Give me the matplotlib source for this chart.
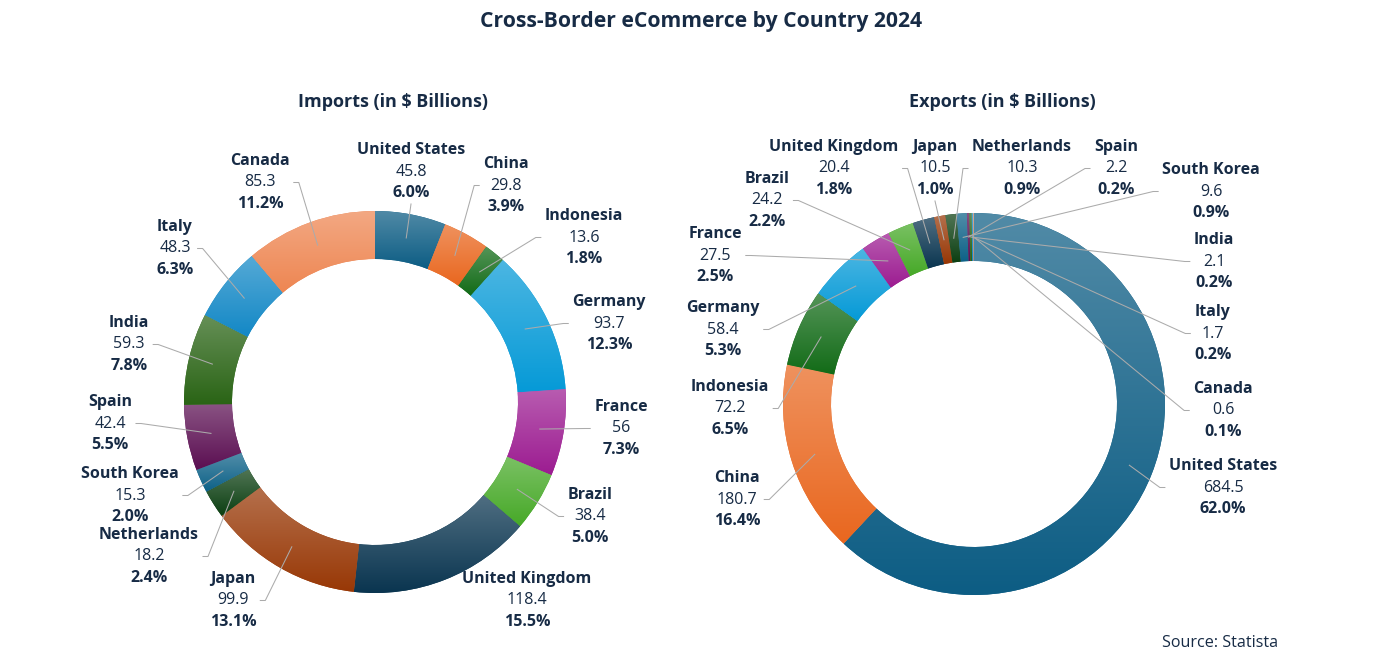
import matplotlib
matplotlib.use("Agg")
import matplotlib.pyplot as plt
import numpy as np
from matplotlib.colors import to_rgb

plt.rcParams["font.family"] = ["Open Sans", "DejaVu Sans"]

W, H = 1379, 665

countries = ["United States", "China", "Indonesia", "Germany", "France", "Brazil",
             "United Kingdom", "Japan", "Netherlands", "South Korea", "Spain",
             "India", "Italy", "Canada"]
imports = [45.8, 29.8, 13.6, 93.7, 56, 38.4, 118.4, 99.9, 18.2, 15.3, 42.4, 59.3, 48.3, 85.3]
exports = [684.5, 180.7, 72.2, 58.4, 27.5, 24.2, 20.4, 10.5, 10.3, 9.6, 2.2, 2.1, 1.7, 0.6]

colors = ["#0d5d84", "#e9671f", "#126b17", "#069ad7", "#9c1c91", "#47a928",
          "#0a3550", "#983806", "#0c3f12", "#0d6187", "#5b0f52", "#2a6415",
          "#1388c6", "#ee8652"]

# label layout: (centre x, name-line y) in pixels from the top-left, plus leader side
imp_labels = [(411, 150), (506, 164), (584, 216), (609, 302), (621, 407), (590, 495),
              (527, 579), (233, 579), (149, 535), (130, 474), (110, 402), (129, 323),
              (175, 227), (260, 161)]
imp_sides = ["B", "L", "L", "L", "L", "L", None, "R", "R", "R", "R", "R", "R", "R"]
exp_labels = [(1223, 466), (737, 478), (730, 387), (723, 308), (715, 234), (767, 179),
              (834, 147), (935, 147), (1022, 147), (1211, 170), (1116, 147), (1214, 240),
              (1213, 312), (1223, 389)]
exp_sides = ["L", "R", "R", "R", "R", "R", "R", "B", "L", "L", "L", "L", "L", "L"]

TEXT = "#172b45"
LINE = "#ababab"
R_OUT, RING = 191, 48
STEP = 21.5
FS = 11.5


def lighten(c, f):
    r = np.array(to_rgb(c))
    return r + (1 - r) * f


def py(y):
    return H - y


fig = plt.figure(figsize=(W / 100, H / 100), dpi=100)
ax = fig.add_axes([0, 0, 1, 1])


def donut(values, centre, labels, sides):
    cx, cy = centre[0], py(centre[1])
    wedges, _ = ax.pie(values, colors=colors, startangle=90, counterclock=False,
                       radius=R_OUT, center=(cx, cy),
                       wedgeprops=dict(width=RING, linewidth=0))
    for w, c in zip(wedges, colors):
        bb = w.get_path().get_extents()
        n = 64
        t = np.linspace(0, 1, n)[:, None]
        grad = lighten(c, 0.28) * (1 - t) + np.array(to_rgb(c)) * t
        im = ax.imshow(grad[:, None, :], extent=(bb.x0, bb.x1, bb.y0, bb.y1),
                       origin="upper", aspect="auto", interpolation="bilinear",
                       zorder=w.get_zorder() + 0.1)
        im.set_clip_path(w)

    total = sum(values)
    cum = np.cumsum([0] + list(values))
    texts = []
    for i, (name, v) in enumerate(zip(countries, values)):
        lx, ly = labels[i]
        pct = f"{100 * v / total:.1f}%"
        vs = f"{v:g}"
        t1 = ax.text(lx, py(ly), name, ha="center", va="center", fontsize=FS,
                     weight="bold", color=TEXT)
        t2 = ax.text(lx, py(ly + STEP), vs, ha="center", va="center", fontsize=FS,
                     color=TEXT)
        t3 = ax.text(lx, py(ly + 2 * STEP), pct, ha="center", va="center", fontsize=FS,
                     weight="bold", color=TEXT)
        mid = (cum[i] + cum[i + 1]) / 2 / total
        ang = np.radians(90 - 360 * mid)
        rm = R_OUT - RING / 2
        texts.append((t1, t2, t3, cx + rm * np.cos(ang), cy + rm * np.sin(ang), sides[i], lx, ly))
    return texts


pending = donut(imports, (375, 402), imp_labels, imp_sides)
pending += donut(exports, (974, 404), exp_labels, exp_sides)

ax.text(701, py(21), "Cross-Border eCommerce by Country 2024", ha="center", va="center",
        fontsize=15.2, weight="bold", color=TEXT)
ax.text(393, py(102), "Imports (in $ Billions)", ha="center", va="center",
        fontsize=13, weight="bold", color=TEXT)
ax.text(1002, py(102), "Exports (in $ Billions)", ha="center", va="center",
        fontsize=13, weight="bold", color=TEXT)
ax.text(1278, py(643), "Source: Statista", ha="right", va="center",
        fontsize=11.6, color=TEXT)

ax.set_xlim(0, W)
ax.set_ylim(0, H)
ax.set_aspect("auto")
ax.axis("off")

fig.canvas.draw()
inv = ax.transData.inverted()
for t1, t2, t3, wx, wy, side, lx, ly in pending:
    if side is None:
        continue
    boxes = [inv.transform(t.get_window_extent()) for t in (t1, t2, t3)]
    x0 = min(b[0][0] for b in boxes)
    x1 = max(b[1][0] for b in boxes)
    y0 = min(b[0][1] for b in boxes)
    vy = py(ly + STEP)
    if side == "L":
        ax.plot([x0 - 4, x0 - 9, wx], [vy, vy, wy], color=LINE, lw=0.75, zorder=5)
    elif side == "R":
        ax.plot([x1 + 4, x1 + 9, wx], [vy, vy, wy], color=LINE, lw=0.75, zorder=5)
    else:
        ax.plot([lx, wx], [y0 - 3, wy], color=LINE, lw=0.75, zorder=5)

fig.savefig("out.png", dpi=100)
